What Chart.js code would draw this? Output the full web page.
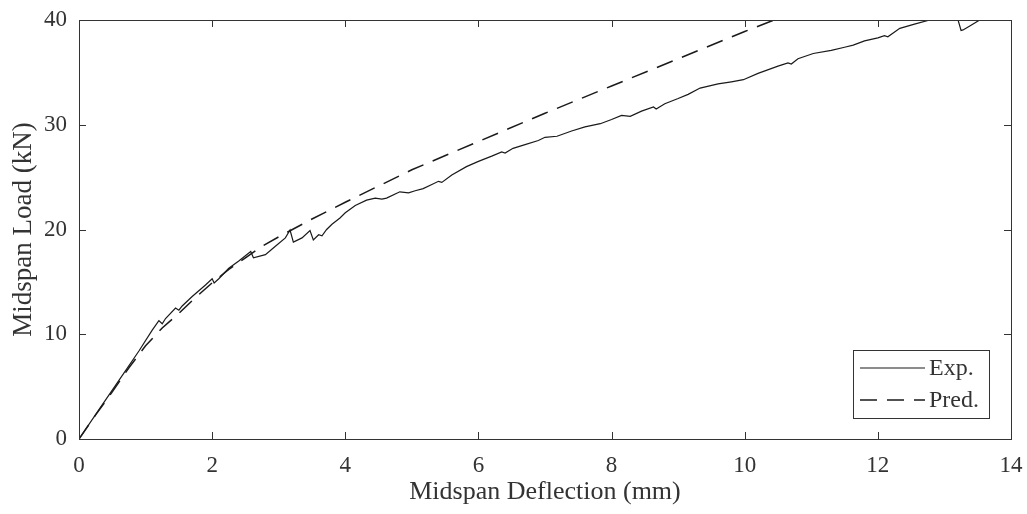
<!DOCTYPE html>
<html>
<head>
<meta charset="utf-8">
<script src="https://cdn.jsdelivr.net/npm/chart.js@4/dist/chart.umd.min.js"></script>
<style>
  html, body { margin: 0; padding: 0; background: #fff; }
  #wrap { width: 1027px; height: 514px; }
</style>
</head>
<body>
<div id="wrap"><canvas id="loadChart" width="1027" height="514"></canvas></div>
<script>
// Versuchskurve (Exp.)
const expX = [0, 0.3, 0.6, 0.9, 1.1, 1.2, 1.25, 1.3, 1.45, 1.5, 1.55, 1.7, 1.9, 2.0, 2.03, 2.1, 2.25, 2.4, 2.58, 2.62, 2.8, 2.95, 3.1, 3.17, 3.22, 3.35, 3.47, 3.52, 3.6, 3.65, 3.72, 3.8, 3.92, 4.0, 4.15, 4.32, 4.45, 4.55, 4.62, 4.82, 4.95, 5.05, 5.17, 5.3, 5.4, 5.45, 5.6, 5.82, 6.0, 6.2, 6.35, 6.4, 6.52, 6.7, 6.9, 7.0, 7.18, 7.4, 7.6, 7.83, 8.0, 8.15, 8.28, 8.45, 8.63, 8.67, 8.8, 9.0, 9.15, 9.33, 9.6, 9.8, 9.98, 10.2, 10.5, 10.65, 10.7, 10.8, 11.03, 11.3, 11.5, 11.63, 11.8, 12.0, 12.1, 12.15, 12.33, 12.55, 12.78, 12.95, 13.1, 13.2, 13.25, 13.28, 13.4, 13.53];
const expY = [0, 2.8, 5.6, 8.4, 10.4, 11.3, 11.0, 11.5, 12.5, 12.3, 12.7, 13.6, 14.7, 15.3, 14.9, 15.3, 16.3, 17.0, 17.9, 17.3, 17.6, 18.4, 19.2, 19.95, 18.8, 19.2, 19.9, 19.0, 19.5, 19.4, 20.0, 20.5, 21.1, 21.6, 22.3, 22.8, 23.0, 22.9, 23.0, 23.6, 23.5, 23.7, 23.9, 24.3, 24.6, 24.5, 25.2, 26.0, 26.5, 27.0, 27.4, 27.3, 27.75, 28.1, 28.5, 28.8, 28.9, 29.4, 29.8, 30.1, 30.5, 30.9, 30.8, 31.3, 31.7, 31.5, 32.0, 32.5, 32.9, 33.5, 33.9, 34.1, 34.3, 34.9, 35.6, 35.9, 35.8, 36.3, 36.8, 37.1, 37.4, 37.6, 38.0, 38.3, 38.5, 38.4, 39.2, 39.6, 40.0, 40.2, 40.0, 40.1, 39.0, 39.05, 39.5, 40.0];

// Vorhersage (Pred.)
const predX = [0, 0.25, 0.5, 0.75, 1.0, 1.25, 1.5, 1.75, 2.0, 2.25, 2.5, 2.75, 3.0, 3.5, 4.0, 5.0, 6.0, 7.0, 8.0, 9.0, 10.0, 10.6];
const predY = [0, 2.3, 4.5, 6.8, 8.9, 10.6, 12.0, 13.5, 14.9, 16.2, 17.3, 18.4, 19.3, 21.0, 22.6, 25.7, 28.4, 31.1, 33.7, 36.3, 38.9, 40.4];

const xTicks = [0, 2, 4, 6, 8, 10, 12, 14];
const yTicks = [0, 10, 20, 30, 40];
const seriesNames = ['Exp.', 'Pred.'];

const toPoints = (xs, ys) => xs.map((x, i) => ({ x: x, y: ys[i] }));
const txtColor = '#333';
const serif = 'Liberation Serif';

// keine Extra-Abstände für Tick-Labels an den Rändern
function noPad(s) {
  s.paddingTop = 0; s.paddingBottom = 0; s.paddingLeft = 0; s.paddingRight = 0;
}

// Rahmen mit Ticks nach innen + Legende im Plot
const frameAndLegend = {
  id: 'frameAndLegend',
  afterDraw(chart) {
    const { ctx, chartArea: a, scales } = chart;
    const tl = 7;
    ctx.save();
    ctx.strokeStyle = '#333';
    ctx.lineWidth = 1;
    ctx.strokeRect(a.left + 0.5, a.top + 0.5, a.right - a.left, a.bottom - a.top);
    ctx.beginPath();
    xTicks.forEach(v => {
      const px = Math.round(scales.x.getPixelForValue(v)) + 0.5;
      ctx.moveTo(px, a.bottom); ctx.lineTo(px, a.bottom - tl);
      ctx.moveTo(px, a.top); ctx.lineTo(px, a.top + tl);
    });
    yTicks.forEach(v => {
      const py = Math.round(scales.y.getPixelForValue(v)) + 0.5;
      ctx.moveTo(a.left, py); ctx.lineTo(a.left + tl, py);
      ctx.moveTo(a.right, py); ctx.lineTo(a.right - tl, py);
    });
    ctx.stroke();

    // Legende
    const w = 136, h = 68;
    const bx = a.right - 22 - w, by = a.bottom - 21 - h;
    ctx.fillStyle = '#fff';
    ctx.fillRect(bx, by, w, h);
    ctx.strokeRect(bx + 0.5, by + 0.5, w, h);
    chart.data.datasets.forEach((ds, i) => {
      const ly = by + 18 + i * 32;
      ctx.beginPath();
      ctx.strokeStyle = ds.borderColor;
      ctx.lineWidth = ds.borderWidth;
      ctx.setLineDash(ds.borderDash || []);
      ctx.moveTo(bx + 7, ly); ctx.lineTo(bx + 72, ly);
      ctx.stroke();
      ctx.setLineDash([]);
      ctx.fillStyle = txtColor;
      ctx.font = '24px "' + serif + '"';
      ctx.textBaseline = 'middle';
      ctx.fillText(ds.label, bx + 76, ly + 1);
    });
    ctx.restore();
  }
};

const ctx = document.getElementById('loadChart').getContext('2d');
const loadChart = new Chart(ctx, {
  type: 'scatter',
  data: {
    datasets: [{
      label: seriesNames[0],
      data: toPoints(expX, expY),
      showLine: true,
      borderColor: '#1a1a1a',
      borderWidth: 1.2,
      pointRadius: 0,
      tension: 0
    }, {
      label: seriesNames[1],
      data: toPoints(predX, predY),
      showLine: true,
      borderColor: '#1a1a1a',
      borderWidth: 1.5,
      borderDash: [17, 10],
      pointRadius: 0,
      tension: 0
    }]
  },
  options: {
    responsive: false,
    animation: false,
    devicePixelRatio: 1,
    layout: { padding: { top: 20, right: 16, left: 0, bottom: 0 } },
    plugins: { legend: { display: false }, tooltip: { enabled: false } },
    scales: {
      x: {
        type: 'linear', min: 0, max: 14,
        afterBuildTicks: s => { s.ticks = xTicks.map(v => ({ value: v })); },
        afterFit: s => { s.height = 75; noPad(s); },
        grid: { display: false, drawTicks: false },
        border: { display: false },
        ticks: { padding: 13, color: txtColor, font: { family: serif, size: 23 } },
        title: { display: true, text: 'Midspan Deflection (mm)', color: txtColor,
                 font: { family: serif, size: 26 }, padding: { top: 0, bottom: 6 } }
      },
      y: {
        type: 'linear', min: 0, max: 40,
        afterBuildTicks: s => { s.ticks = yTicks.map(v => ({ value: v })); },
        afterFit: s => { s.width = 79; noPad(s); },
        grid: { display: false, drawTicks: false },
        border: { display: false },
        ticks: { padding: 12, color: txtColor, font: { family: serif, size: 23 } },
        title: { display: true, text: 'Midspan Load (kN)', color: txtColor,
                 font: { family: serif, size: 27 }, padding: { top: 8, bottom: 0 } }
      }
    }
  },
  plugins: [frameAndLegend]
});
</script>
</body>
</html>
